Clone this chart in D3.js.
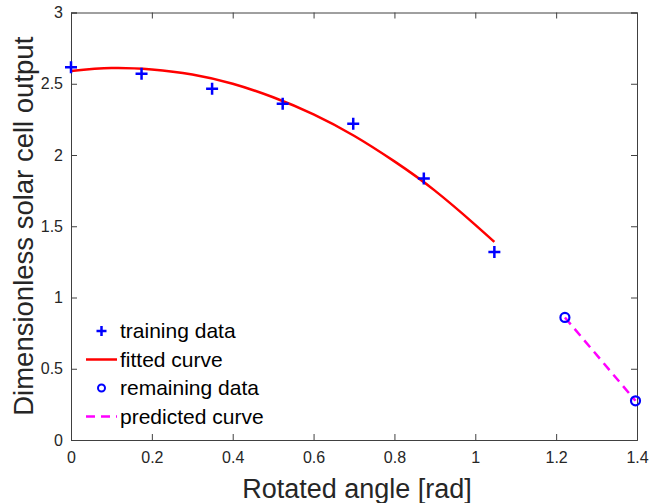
<!DOCTYPE html>
<html>
<head>
<meta charset="utf-8">
<script src="https://cdn.jsdelivr.net/npm/d3@7"></script>
<style>
  body { margin: 0; background: #fff; }
  text { font-family: "Liberation Sans", Arial, sans-serif; }
</style>
</head>
<body>
<div id="chart"></div>
<script>
// training data (rotated angle in rad, dimensionless output)
const trainX = [0, 0.1745, 0.349, 0.5236, 0.6981, 0.8727, 1.0472];
const trainY = [2.615, 2.57, 2.465, 2.36, 2.22, 1.835, 1.32];

// fitted curve
const fitX = [0, 0.1, 0.2, 0.3, 0.4, 0.5, 0.6, 0.7, 0.8, 0.9, 1.0, 1.0472];
const fitY = [2.59, 2.61, 2.60, 2.565, 2.50, 2.405, 2.285, 2.135, 1.955, 1.75, 1.51, 1.39];

// remaining data and predicted curve
const restX = [1.2217, 1.3963];
const restY = [0.86, 0.275];
const predX = [1.2217, 1.3963];
const predY = [0.86, 0.275];

const xTicks = [0, 0.2, 0.4, 0.6, 0.8, 1, 1.2, 1.4];
const yTicks = [0, 0.5, 1, 1.5, 2, 2.5, 3];
const legendLabels = ['training data', 'fitted curve', 'remaining data', 'predicted curve'];

const width = 652, height = 503;
const margin = { left: 71, right: 15, top: 12.5, bottom: 63 };
const axisColor = '#404040';

const svg = d3.select('#chart').append('svg')
  .attr('width', width)
  .attr('height', height);

const x = d3.scaleLinear().domain([0, 1.4]).range([margin.left, width - margin.right]);
const y = d3.scaleLinear().domain([0, 3]).range([height - margin.bottom, margin.top]);

// axes with inward ticks, box on
const tickLen = 6;
svg.append('g')
  .attr('transform', `translate(0,${y(0)})`)
  .call(d3.axisBottom(x).tickValues(xTicks).tickSize(-tickLen).tickPadding(12)
    .tickFormat(d3.format('~g')))
  .call((g) => g.selectAll('text').attr('font-size', 16).attr('fill', '#262626'));
svg.append('g')
  .attr('transform', `translate(0,${y(3)})`)
  .call(d3.axisTop(x).tickValues(xTicks).tickSize(-tickLen).tickFormat(''));
svg.append('g')
  .attr('transform', `translate(${x(0)},0)`)
  .call(d3.axisLeft(y).tickValues(yTicks).tickSize(-tickLen).tickPadding(8)
    .tickFormat(d3.format('~g')))
  .call((g) => g.selectAll('text').attr('font-size', 16).attr('fill', '#262626'));
svg.append('g')
  .attr('transform', `translate(${x(1.4)},0)`)
  .call(d3.axisRight(y).tickValues(yTicks).tickSize(-tickLen).tickFormat(''));

svg.selectAll('.domain').attr('stroke', axisColor);
svg.selectAll('.tick line').attr('stroke', axisColor);

// axis labels
svg.append('text')
  .attr('x', 357)
  .attr('y', 498)
  .attr('text-anchor', 'middle')
  .attr('font-size', 27)
  .attr('fill', '#262626')
  .text('Rotated angle [rad]');

svg.append('text')
  .attr('transform', `translate(33,${(y(0) + y(3)) / 2}) rotate(-90)`)
  .attr('text-anchor', 'middle')
  .attr('font-size', 27.5)
  .attr('fill', '#262626')
  .text('Dimensionless solar cell output');

const line = d3.line()
  .x((d) => x(d[0]))
  .y((d) => y(d[1]));

// fitted curve
svg.append('path')
  .datum(d3.zip(fitX, fitY))
  .attr('fill', 'none')
  .attr('stroke', '#ff0000')
  .attr('stroke-width', 2.5)
  .attr('d', line.curve(d3.curveNatural));

// predicted curve
svg.append('path')
  .datum(d3.zip(predX, predY))
  .attr('fill', 'none')
  .attr('stroke', '#ff00ff')
  .attr('stroke-width', 2.5)
  .attr('stroke-dasharray', '9,6')
  .attr('d', line.curve(d3.curveLinear));

const plusPath = (s) => `M${-s},0H${s}M0,${-s}V${s}`;

// training points
svg.append('g').selectAll('path')
  .data(d3.zip(trainX, trainY))
  .join('path')
  .attr('transform', (d) => `translate(${x(d[0])},${y(d[1])})`)
  .attr('d', plusPath(6))
  .attr('stroke', '#0000ff')
  .attr('stroke-width', 2.5)
  .attr('fill', 'none');

// remaining points
svg.append('g').selectAll('circle')
  .data(d3.zip(restX, restY))
  .join('circle')
  .attr('cx', (d) => x(d[0]))
  .attr('cy', (d) => y(d[1]))
  .attr('r', 4.5)
  .attr('stroke', '#0000ff')
  .attr('stroke-width', 2.2)
  .attr('fill', 'none');

// legend
const legend = svg.append('g').attr('transform', 'translate(86,331)');
const rowH = 28.5;
legendLabels.forEach((label, i) => {
  const row = legend.append('g').attr('transform', `translate(0,${i * rowH})`);
  if (i === 0) {
    row.append('path').attr('transform', 'translate(15.5,0)').attr('d', plusPath(5))
      .attr('stroke', '#0000ff').attr('stroke-width', 2.5);
  } else if (i === 1) {
    row.append('line').attr('x1', 0).attr('x2', 31)
      .attr('stroke', '#ff0000').attr('stroke-width', 2.5);
  } else if (i === 2) {
    row.append('circle').attr('cx', 15.5).attr('r', 3.5).attr('fill', 'none')
      .attr('stroke', '#0000ff').attr('stroke-width', 2);
  } else {
    row.append('line').attr('x1', 0).attr('x2', 31)
      .attr('stroke', '#ff00ff').attr('stroke-width', 2.5).attr('stroke-dasharray', '9,6');
  }
  row.append('text')
    .attr('x', 34)
    .attr('dy', '0.35em')
    .attr('font-size', 21)
    .attr('fill', '#000')
    .text(label);
});
</script>
</body>
</html>
